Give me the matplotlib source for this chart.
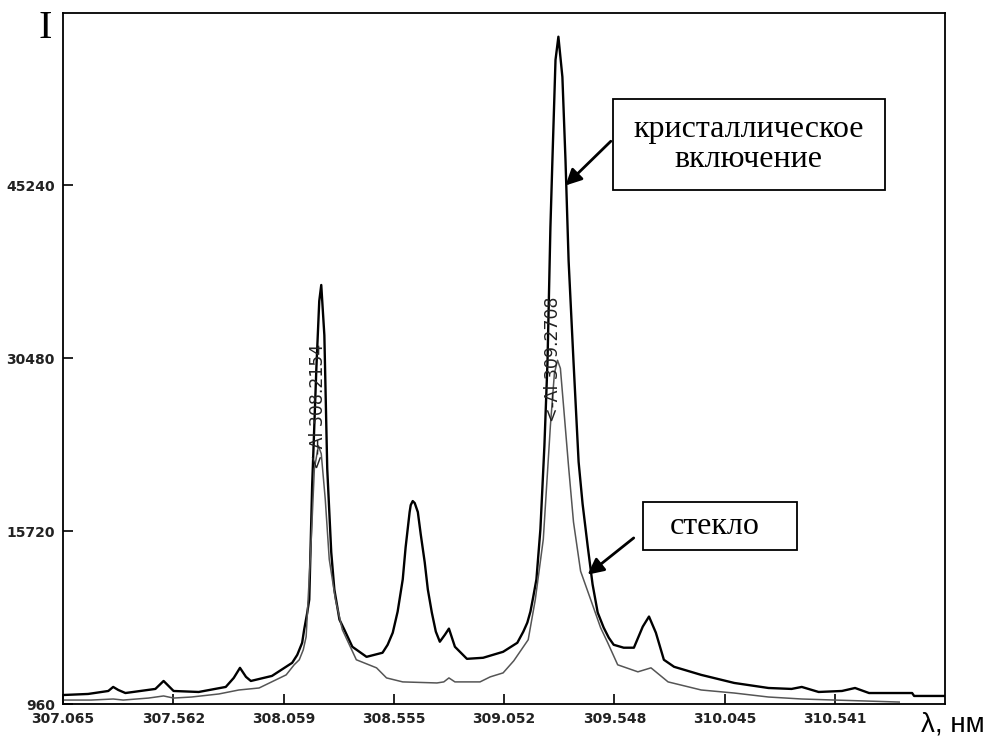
import matplotlib
matplotlib.use("Agg")
import matplotlib.pyplot as plt
from matplotlib.patches import Rectangle

# crystal inclusion spectrum (upper, heavy line)
crystal_wl = [307.065, 307.178, 307.269, 307.291, 307.314, 307.346, 307.481, 307.518,
              307.563, 307.676, 307.798, 307.834, 307.862, 307.889, 307.911, 308.006,
              308.097, 308.120, 308.142, 308.151, 308.165, 308.174, 308.187, 308.206,
              308.219, 308.228, 308.242, 308.255, 308.273, 308.287, 308.310, 308.332,
              308.368, 308.400, 308.432, 308.504, 308.527, 308.550, 308.572, 308.595,
              308.608, 308.626, 308.631, 308.640, 308.649, 308.663, 308.676, 308.694,
              308.708, 308.726, 308.744, 308.762, 308.785, 308.803, 308.830, 308.884,
              308.957, 309.047, 309.111, 309.138, 309.156, 309.170, 309.183, 309.197,
              309.215, 309.233, 309.247, 309.260, 309.269, 309.283, 309.296, 309.314,
              309.328, 309.342, 309.364, 309.387, 309.405, 309.428, 309.450, 309.473,
              309.500, 309.523, 309.545, 309.590, 309.636, 309.676, 309.704, 309.735,
              309.771, 309.817, 309.939, 310.088, 310.242, 310.346, 310.392, 310.468,
              310.573, 310.632, 310.695, 310.889, 310.898, 311.037]
crystal_int = [1730, 1820, 2075, 2420, 2160, 1900, 2250, 2930,
               2075, 1990, 2420, 3190, 4050, 3280, 2930, 3360,
               4480, 5160, 6190, 7310, 8770, 9880, 19580, 29620,
               35370, 36740, 32450, 21040, 13920, 10740, 8170, 7310,
               5850, 5420, 4990, 5340, 6020, 7050, 8850, 11600,
               14350, 17350, 17950, 18290, 18120, 17350, 15460, 13060,
               10740, 8770, 7140, 6280, 6880, 7400, 5850, 4820,
               4910, 5420, 6190, 7140, 7910, 8850, 10140, 11600,
               15890, 23010, 30220, 41630, 47380, 55960, 57940, 54500,
               47380, 38800, 30220, 21640, 18040, 14430, 11170, 8770,
               7480, 6620, 6020, 5770, 5770, 7570, 8430, 7050,
               4740, 4140, 3450, 2760, 2330, 2250, 2420, 1990,
               2075, 2330, 1900, 1900, 1650, 1650]

# glass spectrum (lower, thin line)
glass_wl = [307.065, 307.192, 307.291, 307.336, 307.450, 307.518, 307.563, 307.644,
            307.767, 307.857, 307.948, 308.070, 308.106, 308.129, 308.147, 308.160,
            308.183, 308.197, 308.215, 308.228, 308.246, 308.264, 308.292, 308.323,
            308.386, 308.477, 308.522, 308.595, 308.749, 308.780, 308.803, 308.830,
            308.943, 308.989, 309.047, 309.095, 309.160, 309.192, 309.228, 309.260,
            309.278, 309.292, 309.305, 309.319, 309.342, 309.364, 309.396, 309.441,
            309.486, 309.518, 309.563, 309.654, 309.713, 309.790, 309.939, 310.088,
            310.242, 310.392, 310.541, 310.831]
glass_int = [1300, 1300, 1390, 1300, 1470, 1650, 1470, 1560,
             1820, 2160, 2330, 3450, 4310, 4740, 5590, 6710,
             15030, 21040, 23010, 22330, 18460, 13320, 9880, 7310,
             4740, 4050, 3190, 2850, 2760, 2850, 3190, 2850,
             2850, 3280, 3620, 4650, 6450, 9880, 15030, 24730,
             29190, 30310, 29620, 26450, 21200, 16500, 12300, 9900,
             7480, 6200, 4310, 3710, 4050, 2850, 2160, 1900,
             1560, 1390, 1300, 1130]

x_ticks = [307.065, 307.562, 308.059, 308.555, 309.052, 309.548, 310.045, 310.541]
y_ticks = [960, 15720, 30480, 45240]
x_range = (307.065, 311.037)
y_range = (960, 60000)

lines = [(308.2154, 21040, "<-Al 308.2154"), (309.2708, 25070, "<-Al 309.2708")]

fig = plt.figure(figsize=(9.86, 7.4), dpi=100)
ax = fig.add_axes([0.0639, 0.0486, 0.8945, 0.9344])

ax.plot(crystal_wl, crystal_int, color="black", lw=1.7, solid_joinstyle="round")
ax.plot(glass_wl, glass_int, color="#555555", lw=1.1, solid_joinstyle="round")

ax.set_xlim(*x_range)
ax.set_ylim(*y_range)
ax.set_xticks(x_ticks)
ax.set_xticklabels([f"{v:.3f}" for v in x_ticks])
ax.set_yticks(y_ticks)
ax.set_yticklabels([str(v) for v in y_ticks])
ax.tick_params(direction="in", length=7, width=1.2, labelsize=10,
               labelcolor="#222222", pad=6)
for lbl in ax.get_xticklabels() + ax.get_yticklabels():
    lbl.set_fontweight("bold")
for sp in ax.spines.values():
    sp.set_linewidth(1.3)

for wl, base, txt in lines:
    ax.text(wl, base, txt, rotation=90, ha="center", va="bottom",
            fontsize=12.5, color="#222222")

serif = "Liberation Serif"
ax.add_patch(Rectangle((0.6236, 0.7434), 0.3084, 0.1316, transform=ax.transAxes,
                       fill=True, facecolor="white", edgecolor="black", lw=1.3))
ax.text(0.7775, 0.8093, "кристаллическое\nвключение", transform=ax.transAxes,
        ha="center", va="center", fontsize=23, family=serif, linespacing=1.05)
ax.add_patch(Rectangle((0.6576, 0.2227), 0.1746, 0.0695, transform=ax.transAxes,
                       fill=True, facecolor="white", edgecolor="black", lw=1.3))
ax.text(0.7384, 0.2574, "стекло", transform=ax.transAxes,
        ha="center", va="center", fontsize=23, family=serif)

arrow = dict(arrowstyle="-|>", color="black", lw=2, mutation_scale=24)
ax.annotate("", xy=(309.319, 45070), xytext=(309.541, 49180), arrowprops=arrow)
ax.annotate("", xy=(309.418, 11860), xytext=(309.645, 15290), arrowprops=arrow)

fig.text(0.046, 0.962, "I", fontsize=29, family=serif, ha="center", va="center")
fig.text(0.999, 0.003, "λ, нм", fontsize=20, family="Liberation Sans",
         ha="right", va="bottom")

fig.savefig("out.png", dpi=100)
